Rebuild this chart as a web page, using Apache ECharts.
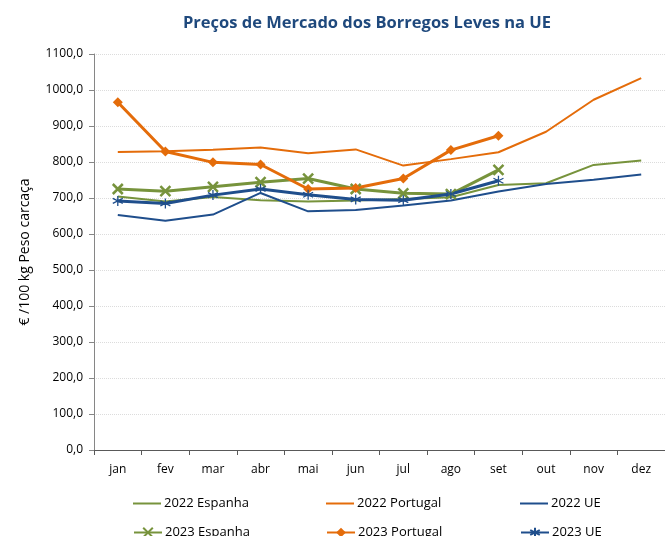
<!DOCTYPE html>
<html>
<head>
<meta charset="utf-8">
<script src="https://cdn.jsdelivr.net/npm/echarts@6/dist/echarts.min.js"></script>
<style>
  html, body { margin: 0; padding: 0; background: #fff; }
  #chart { width: 665px; height: 536px; }
</style>
</head>
<body>
<div id="chart"></div>
<script>
var months = ['jan', 'fev', 'mar', 'abr', 'mai', 'jun', 'jul', 'ago', 'set', 'out', 'nov', 'dez'];

var es2022 = [704, 690, 703, 694, 690, 693, 697, 702, 736, 741, 792, 804];
var pt2022 = [828, 830, 834, 840, 824, 835, 790, 808, 827, 884, 973, 1033];
var ue2022 = [653, 637, 654, 714, 663, 667, 679, 693, 718, 739, 751, 765];
var es2023 = [725, 719, 731, 744, 754, 725, 713, 711, 778];
var pt2023 = [966, 829, 799, 793, 725, 728, 754, 833, 873];
var ue2023 = [692, 685, 708, 725, 709, 696, 694, 711, 748];

var GREEN = '#77933c', ORANGE = '#e46c0a', BLUE = '#1f4e8c';
var FONT = '"Open Sans", "Liberation Sans", sans-serif';

var xPath = 'path://M0,0 L10,10 M10,0 L0,10';
var starPath = 'path://M5,0 L5,10 M0.7,2.5 L9.3,7.5 M0.7,7.5 L9.3,2.5';
var barIcon = 'path://M0,0 L28,0 L28,2 L0,2 Z';

var myChart = echarts.init(document.getElementById('chart'));

function plain(name, data, color) {
    return {
        name: name, type: 'line', data: data, symbol: 'none', z: 2,
        lineStyle: { color: color, width: 2 },
        itemStyle: { color: color }
    };
}
function marked(name, data, color, symbol, size, bw) {
    return {
        name: name, type: 'line', data: data, symbol: symbol, symbolSize: size, z: 3,
        lineStyle: { color: color, width: 3 },
        itemStyle: { color: color, borderColor: color, borderWidth: bw }
    };
}

// one legend per entry so the columns line up like the original
function leg(name, x, y, icon) {
    var item = { name: name };
    if (icon) item.icon = icon;
    return {
        orient: 'horizontal', left: x, top: y, itemWidth: 28, itemHeight: 12, itemGap: 4,
        data: [item],
        textStyle: { fontFamily: FONT, fontSize: 13, color: '#000', padding: [0, 0, 0, -2] }
    };
}

var option = {
    animation: false,
    title: {
        text: 'Preços de Mercado dos Borregos Leves na UE',
        left: 362, textAlign: 'center', top: 10,
        textStyle: { fontFamily: FONT, fontSize: 16.5, fontWeight: 'bold', color: '#1f497d' }
    },
    legend: [
        leg('2022 Espanha', 128, 492, barIcon),
        leg('2022 Portugal', 321, 492, barIcon),
        leg('2022 UE', 515, 492, barIcon),
        leg('2023 Espanha', 128, 521),
        leg('2023 Portugal', 321, 521),
        leg('2023 UE', 515, 521)
    ],
    grid: { left: 94, top: 54, width: 581, height: 396, containLabel: false },
    xAxis: {
        type: 'category', data: months, boundaryGap: true,
        axisLine: { lineStyle: { color: '#595959' } },
        axisTick: { show: true, length: 5, lineStyle: { color: '#595959' } },
        axisLabel: { fontFamily: FONT, fontSize: 12, color: '#000', margin: 14 }
    },
    yAxis: {
        type: 'value', min: 0, max: 1100, interval: 100,
        name: '€ /100 kg Peso carcaça', nameLocation: 'middle', nameGap: 62, nameRotate: 90,
        nameTextStyle: { fontFamily: FONT, fontSize: 14, color: '#000' },
        axisLine: { show: true, lineStyle: { color: '#868686' } },
        axisTick: { show: true, length: 5, lineStyle: { color: '#868686' } },
        axisLabel: {
            fontFamily: FONT, fontSize: 12, color: '#000', margin: 11,
            formatter: function (v) { return v.toFixed(1).replace('.', ','); }
        },
        splitLine: { lineStyle: { color: '#dcdcdc', type: 'dotted' } }
    },
    series: [
        plain('2022 Espanha', es2022, GREEN),
        plain('2022 Portugal', pt2022, ORANGE),
        plain('2022 UE', ue2022, BLUE),
        marked('2023 Espanha', es2023, GREEN, xPath, 10, 2.5),
        marked('2023 Portugal', pt2023, ORANGE, 'diamond', 10, 0),
        marked('2023 UE', ue2023, BLUE, starPath, 10, 1.3)
    ]
};

myChart.setOption(option);
</script>
</body>
</html>
